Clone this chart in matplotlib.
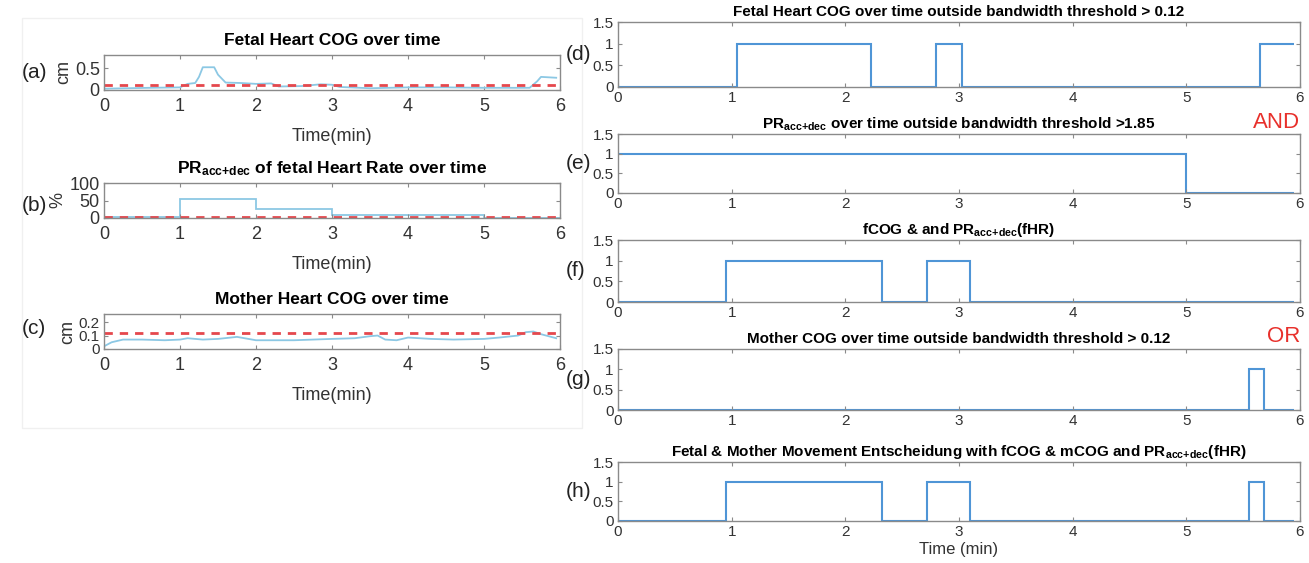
import matplotlib.pyplot as plt
from matplotlib import font_manager

# font choice: condensed Arial-like for the right column if it exists
names = {f.name for f in font_manager.fontManager.ttflist}
WIDE = "Liberation Sans"
NARROW = "Liberation Sans Narrow" if "Liberation Sans Narrow" in names else "Liberation Sans"

plt.rcParams["font.family"] = [WIDE, "DejaVu Sans"]
plt.rcParams["mathtext.fontset"] = "custom"
plt.rcParams["mathtext.bf"] = WIDE + ":bold"
plt.rcParams["mathtext.rm"] = NARROW + ":bold"
plt.rcParams["mathtext.it"] = NARROW + ":bold"

LBLUE = "#8cc8e4"
BLUE = "#4f95d6"
RED = "#e5484d"
SPINE = "#8a8a8a"

# ---- left column data ----
fetal_t = [0, 0.3, 0.6, 1.0, 1.1, 1.2, 1.25, 1.3, 1.45, 1.5, 1.6, 1.8, 2.0, 2.2, 2.3,
           2.6, 2.85, 3.0, 3.1, 3.5, 4.0, 4.5, 5.0, 5.6, 5.7, 5.75, 5.95]
fetal_cog = [0.03, 0.04, 0.05, 0.06, 0.14, 0.16, 0.3, 0.52, 0.52, 0.35, 0.17, 0.16, 0.14,
             0.15, 0.08, 0.09, 0.13, 0.12, 0.07, 0.04, 0.06, 0.06, 0.05, 0.05, 0.2, 0.3, 0.28]
fetal_thr = 0.12

pr_edges = [0, 1, 2, 3, 4, 5, 6]
pr_vals = [4, 55, 25, 10, 10, 1]
pr_thr = 1.85

mother_t = [0, 0.1, 0.25, 0.5, 0.8, 1.0, 1.1, 1.3, 1.5, 1.75, 1.9, 2.0, 2.5, 3.0, 3.3,
            3.5, 3.6, 3.7, 3.85, 4.0, 4.3, 4.6, 5.0, 5.2, 5.45, 5.55, 5.65, 5.75, 5.95]
mother_cog = [0.02, 0.05, 0.07, 0.07, 0.065, 0.07, 0.08, 0.07, 0.075, 0.09, 0.075, 0.065,
              0.065, 0.075, 0.08, 0.095, 0.1, 0.07, 0.065, 0.085, 0.075, 0.07, 0.075,
              0.085, 0.1, 0.125, 0.13, 0.11, 0.08]
mother_thr = 0.12

# ---- right column: binary decisions as step edges / levels ----
d_edges = [0, 1.05, 2.23, 2.8, 3.03, 5.65, 5.95]
d_vals = [0, 1, 0, 1, 0, 1]
e_edges = [0, 5.0, 5.95]
e_vals = [1, 0]
f_edges = [0, 0.95, 2.32, 2.72, 3.1, 5.95]
f_vals = [0, 1, 0, 1, 0]
g_edges = [0, 5.55, 5.68, 5.95]
g_vals = [0, 1, 0]
h_edges = [0, 0.95, 2.32, 2.72, 3.1, 5.55, 5.68, 5.95]
h_vals = [0, 1, 0, 1, 0, 1, 0]

W, H = 1309, 563
fig = plt.figure(figsize=(W / 100, H / 100), dpi=100)


def px_axes(x0, x1, top, bottom):
    return fig.add_axes([x0 / W, 1 - bottom / H, (x1 - x0) / W, (bottom - top) / H])


def style(ax, size, family, pad=3):
    ax.set_xlim(0, 6)
    ax.set_xticks(range(7))
    ax.tick_params(direction="in", top=True, right=True, length=3, width=0.8,
                   colors=SPINE, labelcolor="#333333", labelsize=size, pad=3)
    ax.tick_params(axis="x", pad=pad)
    for lab in ax.get_xticklabels() + ax.get_yticklabels():
        lab.set_family(family)
    for s in ax.spines.values():
        s.set_color(SPINE)
        s.set_linewidth(1.0)


# faint frame around the left block
fig.add_artist(plt.Rectangle((22 / W, 1 - 428 / H), 560 / W, 410 / H,
                             transform=fig.transFigure, fill=False,
                             edgecolor="#f0f0f0", lw=1))

left = dict(fontsize=13, labelpad=9, color="#333333")

# (a)
ax = px_axes(104, 560, 55, 90)
ax.plot(fetal_t, fetal_cog, color=LBLUE, lw=1.3)
ax.axhline(fetal_thr, color=RED, lw=2, ls=(0, (3, 2.5)))
ax.set_ylim(0, 0.8)
ax.set_yticks([0, 0.5])
ax.set_yticklabels(["0", "0.5"])
style(ax, 13, WIDE, pad=6)
ax.set_ylabel("cm", fontsize=13, labelpad=2, color="#333333")
ax.set_xlabel("Time(min)", **left)
ax.set_title("Fetal Heart COG over time", fontsize=12.5, fontweight="bold", pad=7)

# (b)
ax = px_axes(104, 560, 183, 218)
ax.stairs(pr_vals, pr_edges, baseline=None, color=LBLUE, lw=1.3)
ax.axhline(pr_thr, color=RED, lw=2, ls=(0, (3, 2.5)))
ax.set_ylim(0, 100)
ax.set_yticks([0, 50, 100])
style(ax, 13, WIDE, pad=6)
ax.set_ylabel("%", fontsize=13, labelpad=2, color="#333333")
ax.set_xlabel("Time(min)", **left)
ax.set_title(r"$\mathbf{PR}_{\mathbf{acc{+}dec}}$ of fetal Heart Rate over time",
             fontsize=12.5, fontweight="bold", pad=7)

# (c)
ax = px_axes(104, 560, 314, 349)
ax.plot(mother_t, mother_cog, color=LBLUE, lw=1.3)
ax.axhline(mother_thr, color=RED, lw=2, ls=(0, (3, 2.5)))
ax.set_ylim(0, 0.26)
ax.set_yticks([0, 0.1, 0.2])
ax.set_yticklabels(["0", "0.1", "0.2"])
style(ax, 13, WIDE, pad=6)
ax.tick_params(axis="y", labelsize=11)
ax.set_ylabel("cm", fontsize=13, labelpad=2, color="#333333")
ax.set_xlabel("Time(min)", **left)
ax.set_title("Mother Heart COG over time", fontsize=12.5, fontweight="bold", pad=7)

for lab, yc in zip(["(a)", "(b)", "(c)"], [72, 205, 329]):
    fig.text(22 / W, 1 - yc / H, lab, fontsize=15, va="center", ha="left", color="#222222")

# right column
right = [
    (d_edges, d_vals, 22, 87, "Fetal Heart COG over time outside bandwidth threshold > 0.12", "(d)"),
    (e_edges, e_vals, 134, 193,
     r"$\mathrm{PR}_{\mathrm{acc{+}dec}}$ over time outside bandwidth threshold >1.85", "(e)"),
    (f_edges, f_vals, 240, 302, r"fCOG & and $\mathrm{PR}_{\mathrm{acc{+}dec}}$(fHR)", "(f)"),
    (g_edges, g_vals, 349, 410, "Mother COG over time outside bandwidth threshold > 0.12", "(g)"),
    (h_edges, h_vals, 462, 521,
     r"Fetal & Mother Movement Entscheidung with fCOG & mCOG and $\mathrm{PR}_{\mathrm{acc{+}dec}}$(fHR)",
     "(h)"),
]
for edges, vals, top, bot, title, lab in right:
    ax = px_axes(618, 1300, top, bot)
    ax.stairs(vals, edges, baseline=None, color=BLUE, lw=1.5)
    ax.set_ylim(0, 1.5)
    ax.set_yticks([0, 0.5, 1, 1.5])
    ax.set_yticklabels(["0", "0.5", "1", "1.5"])
    style(ax, 11, NARROW)
    ax.set_title(title, fontsize=11, fontweight="bold", family=NARROW, pad=4)
    fig.text(566 / W, 1 - (top + bot) / 2 / H, lab, fontsize=15, va="center", ha="left",
             color="#222222")
ax.set_xlabel("Time (min)", fontsize=12, family=NARROW, labelpad=2, color="#333333")

fig.text(1300 / W, 1 - 122 / H, "AND", fontsize=16, color="#e8302b", ha="right", va="center")
fig.text(1300 / W, 1 - 337 / H, "OR", fontsize=16, color="#e8302b", ha="right", va="center")

fig.savefig("out.png", dpi=100, facecolor="white")
